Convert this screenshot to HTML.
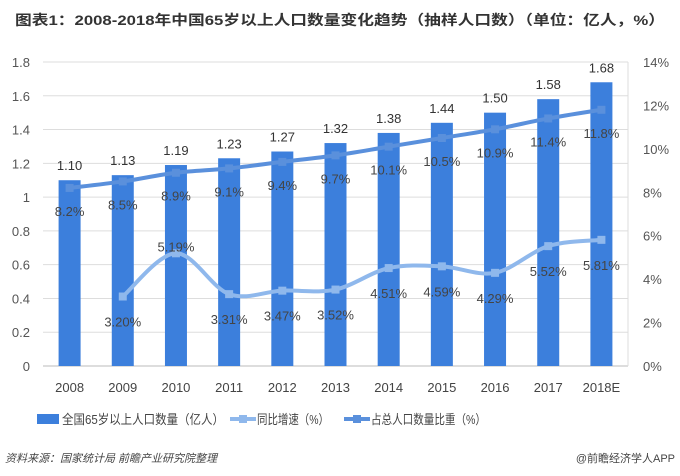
<!DOCTYPE html>
<html><head><meta charset="utf-8"><style>
body{margin:0;background:#fff;font-family:"Liberation Sans","Noto Sans CJK SC",sans-serif;}
#wrap{position:relative;width:680px;height:476px;overflow:hidden;}
svg text{font-family:"Liberation Sans","Noto Sans CJK SC",sans-serif;}
</style></head><body>
<div id="wrap">
<svg id="c" width="680" height="476">
<text x="15" y="25" textLength="650" lengthAdjust="spacingAndGlyphs" font-size="14" font-weight="bold" fill="#333">图表1：2008-2018年中国65岁以上人口数量变化趋势（抽样人口数）（单位：亿人，%）</text>
<g id="grid"></g><g id="bars"></g><g id="lines"></g><g id="labels"></g><g id="axes"></g>
<g>
<rect x="37" y="414" width="22" height="10" fill="#3c7fdc"/>
<text x="62" y="424" textLength="162" lengthAdjust="spacingAndGlyphs" font-size="13" fill="#444">全国65岁以上人口数量（亿人）</text>
<line x1="230" y1="419" x2="256" y2="419" stroke="#8fb8ec" stroke-width="4"/>
<rect x="239" y="415" width="8" height="8" fill="#8fb8ec"/>
<text x="257" y="424" textLength="72" lengthAdjust="spacingAndGlyphs" font-size="13" fill="#444">同比增速（%）</text>
<line x1="344" y1="419" x2="370" y2="419" stroke="#5a90dc" stroke-width="4"/>
<rect x="353" y="415" width="8" height="8" fill="#5a90dc"/>
<text x="371" y="424" textLength="115" lengthAdjust="spacingAndGlyphs" font-size="13" fill="#444">占总人口数量比重（%）</text>
</g>
<text x="5" y="462" font-size="11" font-style="italic" fill="#444">资料来源：国家统计局  前瞻产业研究院整理</text>
<text x="675" y="462" text-anchor="end" font-size="11" fill="#444">@前瞻经济学人APP</text>
</svg></div>
<script>
const categories=["2008","2009","2010","2011","2012","2013","2014","2015","2016","2017","2018E"];
const population=[1.10,1.13,1.19,1.23,1.27,1.32,1.38,1.44,1.50,1.58,1.68];
const growth=[null,3.20,5.19,3.31,3.47,3.52,4.51,4.59,4.29,5.52,5.81];
const share=[8.2,8.5,8.9,9.1,9.4,9.7,10.1,10.5,10.9,11.4,11.8];
const leftTicks=["0","0.2","0.4","0.6","0.8","1","1.2","1.4","1.6","1.8"];
const rightTicks=["0%","2%","4%","6%","8%","10%","12%","14%"];
const NS="http://www.w3.org/2000/svg";
const L=43,R=628,T=62,B=366;
const band=(R-L)/categories.length;
const x=i=>L+band*(i+0.5);
const yL=v=>B-(v/1.8)*(B-T);
const yR=v=>B-(v/14)*(B-T);
function mk(tag,attrs,parent,txt){const e=document.createElementNS(NS,tag);for(const k in attrs)e.setAttribute(k,attrs[k]);if(txt!==undefined)e.textContent=txt;document.getElementById(parent).appendChild(e);return e;}
leftTicks.forEach((t,i)=>{const v=i*0.2;
 const g=mk('line',{x1:L,x2:R,y1:yL(v),y2:yL(v),stroke:i==0?'#bbb':'#ddd','stroke-width':1},'grid');
 
 
 const tx=mk('text',{x:30,y:yL(v)+5,'text-anchor':'end','font-size':13,fill:'#555'},'axes',t);
 
 });
const vline=mk('line',{x1:R,x2:R,y1:T,y2:B,stroke:'#ddd'},'grid');


rightTicks.forEach((t,i)=>{const tx=mk('text',{x:643,y:yR(i*2)+5,'font-size':13,fill:'#555'},'axes',t);
 
 });
categories.forEach((c,i)=>{const tx=mk('text',{x:x(i),y:392,'text-anchor':'middle','font-size':13,fill:'#444'},'axes',c);
 
 
 const bw=22;
 const b=mk('rect',{x:x(i)-bw/2,y:yL(population[i]),width:bw,height:B-yL(population[i]),fill:'#3c7fdc'},'bars');
 
 
 const bl=mk('text',{x:x(i),y:yL(population[i])-10,'text-anchor':'middle','font-size':13,fill:'#333'},'labels',population[i].toFixed(2));
 
 });
function smooth(pts){let d='M'+pts[0][0]+','+pts[0][1];
 for(let i=0;i<pts.length-1;i++){const p0=pts[i-1]||pts[i],p1=pts[i],p2=pts[i+1],p3=pts[i+2]||p2;
  const c1=[p1[0]+(p2[0]-p0[0])/6,p1[1]+(p2[1]-p0[1])/6],c2=[p2[0]-(p3[0]-p1[0])/6,p2[1]-(p3[1]-p1[1])/6];
  d+=` C${c1[0]},${c1[1]} ${c2[0]},${c2[1]} ${p2[0]},${p2[1]}`;}return d;}
function series(vals,color,name,fmt,dy){
 const pts=[];vals.forEach((v,i)=>{if(v!==null)pts.push([x(i),yR(v),i,v]);});
 const p=mk('path',{d:smooth(pts),fill:'none',stroke:color,'stroke-width':4},'lines');
 
 
 pts.forEach(q=>{const m=mk('rect',{x:q[0]-4,y:q[1]-4,width:8,height:8,fill:color},'lines');
  
  
  const off=(name=='growth'&&q[2]==2)?-2:dy;
  const t=mk('text',{x:q[0],y:q[1]+off,'text-anchor':'middle','font-size':13,fill:'#444'},'labels',fmt(q[3]));
  
  });}
series(growth,'#8fb8ec','growth',v=>v.toFixed(2)+'%',30);
series(share,'#5a90dc','share',v=>v.toFixed(1)+'%',28);
</script></body></html>
